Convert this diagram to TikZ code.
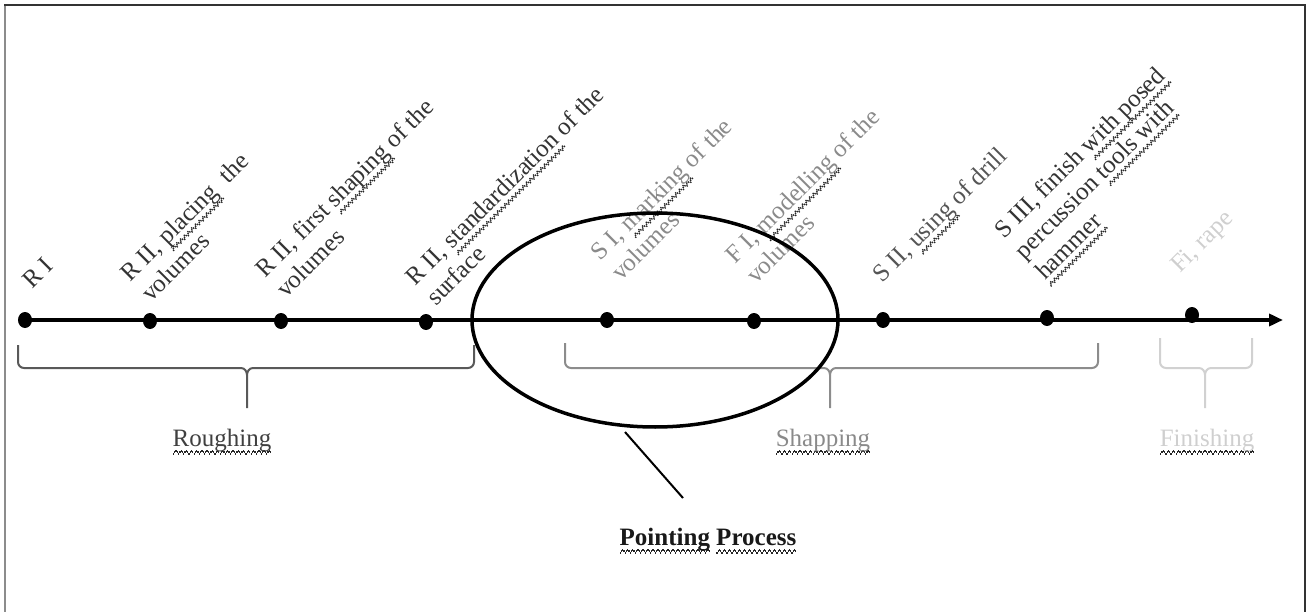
\documentclass[tikz,border=0pt]{standalone}
\usepackage{fontspec}
\setmainfont{Liberation Serif}
\usetikzlibrary{shapes.geometric,arrows.meta}
\newcommand\wvpiece{\rule[-8.5pt]{1.25pt}{1.6pt}\rule[-7pt]{1.25pt}{1.6pt}\rule[-5.5pt]{1.25pt}{1.6pt}\rule[-7pt]{1.25pt}{1.6pt}}
\newsavebox\wvbox
\newcommand\wv[1]{\sbox\wvbox{#1}\leavevmode\rlap{\color{black!85}\hbox to \wd\wvbox{\xleaders\hbox{\wvpiece}\hfil}}\usebox\wvbox}
\definecolor{inkA}{HTML}{333333}
\definecolor{inkB}{HTML}{8A8A8A}
\definecolor{inkC}{HTML}{555555}
\definecolor{inkD}{HTML}{CFCFCF}
\tikzset{
  lab/.style={rotate=45, anchor=base west, align=left, inner sep=0pt,
    font=\fontsize{25}{29}\selectfont},
  grp/.style={anchor=base, inner sep=0pt, font=\fontsize{25}{29}\selectfont},
  dot/.style={ellipse, fill=black, draw=none, inner sep=0pt, minimum width=14pt, minimum height=16pt},
  axis/.style={line width=4pt, -{Triangle[length=14pt,width=12pt]}},
  brc/.style={line width=2pt},
  ell/.style={ellipse, draw=black, line width=3.5pt, minimum width=366pt, minimum height=214pt, inner sep=0pt},
}
\begin{document}
\begin{tikzpicture}[x=1pt,y=-1pt]
\useasboundingbox (0,0) rectangle (1306,612);
% frame
\draw[black!45, line width=2pt] (5,612) -- (5,5);
\draw[black!80, line width=2pt] (4,5) -- (1305,5) -- (1305,612);

% axis
\coordinate (tip) at (1283,320);
\node[dot] (d1) at (25,320) {};
\draw[axis] (d1.center) -- (tip);
\node[dot] (d2) at (150,321) {};
\node[dot] (d3) at (281,321) {};
\node[dot] (d4) at (426,322) {};
\node[dot] (d5) at (607,320) {};
\node[dot] (d6) at (754,321) {};
\node[dot] (d7) at (883,320) {};
\node[dot] (d8) at (1047,318) {};
\node[dot] (d9) at (1192,315) {};

% rotated labels (anchor = start of the last line)
\node[lab, text=inkA] (l1) at (32,290) {R I};
\node[lab, text=inkA] (l2) at (151,303) {R II, \wv{placing} \ the\\volumes};
\node[lab, text=inkA] (l3) at (286,299) {R II, first \wv{shaping} of the\\volumes};
\node[lab, text=inkA] (l4) at (436,307) {R II, \wv{standardization} of the\\surface};
\node[lab, text=inkB] (l5) at (621,282) {S I, \wv{marking} of the\\volumes};
\node[lab, text=inkB] (l6) at (756,285) {F I, \wv{modelling} of the\\volumes};
\node[lab, text=inkC] (l7) at (882,284) {S II, \wv{using} of drill};
\node[lab, text=inkA] (l8) at (1045,281) {S III, finish \wv{with posed}\\percussion \wv{tools with}\\\wv{hammer}};
\node[lab, text=inkD] (l9) at (1180,274) {Fi, rape};

% braces
\begin{scope}[brc, draw=black!65]
\draw (18,345) -- (18,362) to[out=-90,in=180] (24,368) -- (241,368) to[out=0,in=90] (247,375) -- (247,408);
\draw (247,375) to[out=90,in=180] (253,368) -- (468,368) to[out=0,in=-90] (474,362) -- (474,345);
\end{scope}
\begin{scope}[brc, draw=black!45]
\draw (565,343) -- (565,362) to[out=-90,in=180] (571,368) -- (824,368) to[out=0,in=90] (830,375) -- (830,408);
\draw (830,375) to[out=90,in=180] (836,368) -- (1092,368) to[out=0,in=-90] (1098,362) -- (1098,343);
\end{scope}
\begin{scope}[brc, draw=black!18]
\draw (1160,338) -- (1160,362) to[out=-90,in=180] (1166,368) -- (1199,368) to[out=0,in=90] (1205,375) -- (1205,408);
\draw (1205,375) to[out=90,in=180] (1211,368) -- (1246,368) to[out=0,in=-90] (1252,362) -- (1252,338);
\end{scope}

\node[grp, text=black!75] (rough) at (222,446) {\wv{Roughing}};
\node[grp, text=inkB] (shap) at (823,446) {\wv{Shapping}};
\node[grp, text=inkD] (fin) at (1207,446) {\wv{Finishing}};

% pointing process
\node[ell] (pp) at (655,320) {};
\node[grp, font=\fontsize{25}{29}\selectfont\bfseries, text=black!90] (ptxt) at (708,545) {\wv{Pointing} \wv{Process}};
\coordinate (pa) at (625,432);
\coordinate (pb) at (683,498);
\draw[line width=2pt] (pa) -- (pb);
\end{tikzpicture}
\end{document}
